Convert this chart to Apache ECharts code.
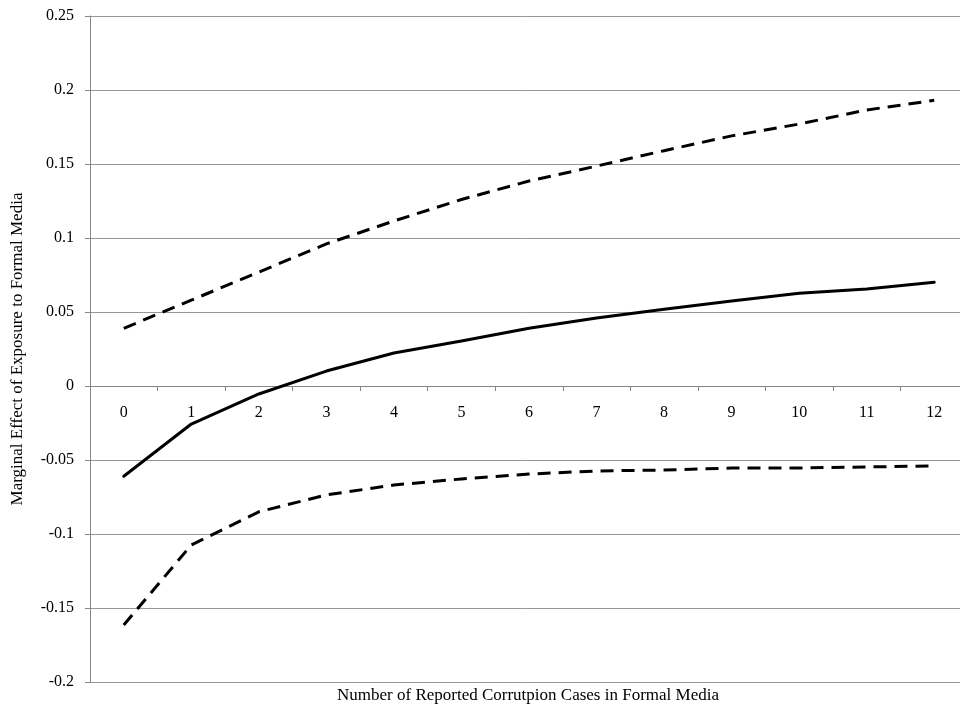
<!DOCTYPE html>
<html>
<head>
<meta charset="utf-8">
<script src="https://cdn.jsdelivr.net/npm/echarts@6/dist/echarts.min.js"></script>
<style>html,body{margin:0;padding:0;background:#fff}#c{width:960px;height:709px}</style>
</head>
<body>
<div id="c"></div>
<script>
const categories = ['0','1','2','3','4','5','6','7','8','9','10','11','12'];
const effect = [-0.061, -0.0257, -0.0054, 0.0101, 0.0223, 0.0304, 0.039, 0.046, 0.0518, 0.0574, 0.0626, 0.0655, 0.0701];
const upper = [0.039, 0.058, 0.077, 0.096, 0.1115, 0.126, 0.1385, 0.1486, 0.159, 0.169, 0.177, 0.1865, 0.193];
const lower = [-0.1615, -0.1074, -0.085, -0.0736, -0.0669, -0.0628, -0.0595, -0.0574, -0.0568, -0.0554, -0.0554, -0.0547, -0.054];
const yTicks = ['-0.2','-0.15','-0.1','-0.05','0','0.05','0.1','0.15','0.2','0.25'];
const xTitle = 'Number of Reported Corrutpion Cases in Formal Media';
const yTitle = 'Marginal Effect of Exposure to Formal Media';

const font = 'Liberation Serif';
const chart = echarts.init(document.getElementById('c'), null, {renderer: 'canvas'});
const solid = {type: 'line', symbol: 'none', smooth: false, animation: false,
  lineStyle: {color: '#000', width: 3, type: 'solid', cap: 'round', join: 'round'}};
chart.setOption({
  animation: false,
  backgroundColor: '#fff',
  grid: {left: 90, top: 16, width: 878, height: 666, containLabel: false, outerBoundsMode: 'none'},
  xAxis: {
    type: 'category', data: categories, boundaryGap: true, position: 'bottom', offset: -296,
    axisLine: {onZero: false, lineStyle: {color: '#868686', width: 1}},
    axisTick: {show: true, length: 5, alignWithLabel: false, lineStyle: {color: '#868686'}},
    axisLabel: {fontFamily: font, fontSize: 16, color: '#000', margin: 19, interval: 0},
    splitLine: {show: false}
  },
  yAxis: {
    type: 'value', min: -0.2, max: 0.25, interval: 0.05,
    axisLine: {show: true, lineStyle: {color: '#868686', width: 1}},
    axisTick: {show: true, length: 5, lineStyle: {color: '#868686'}},
    axisLabel: {fontFamily: font, fontSize: 16, color: '#000', margin: 16,
      formatter: v => yTicks[Math.round((v + 0.2) / 0.05)]},
    splitLine: {show: true, lineStyle: {color: '#969696', width: 1}},
    name: yTitle, nameLocation: 'middle', nameGap: 64, nameRotate: 90,
    nameTextStyle: {fontFamily: font, fontSize: 17, color: '#000'}
  },
  graphic: [{
    type: 'text', x: 528, y: 696,
    style: {text: xTitle, font: '17px "Liberation Serif"', fill: '#000', align: 'center', verticalAlign: 'middle'}
  }],
  series: [
    Object.assign({}, solid, {name: 'effect', data: effect}),
    Object.assign({}, solid, {name: 'upper', data: upper,
      lineStyle: {color: '#000', width: 3, type: [13, 8], cap: 'butt'}}),
    Object.assign({}, solid, {name: 'lower', data: lower,
      lineStyle: {color: '#000', width: 3, type: [13, 8], cap: 'butt'}})
  ]
});
</script>
</body>
</html>
